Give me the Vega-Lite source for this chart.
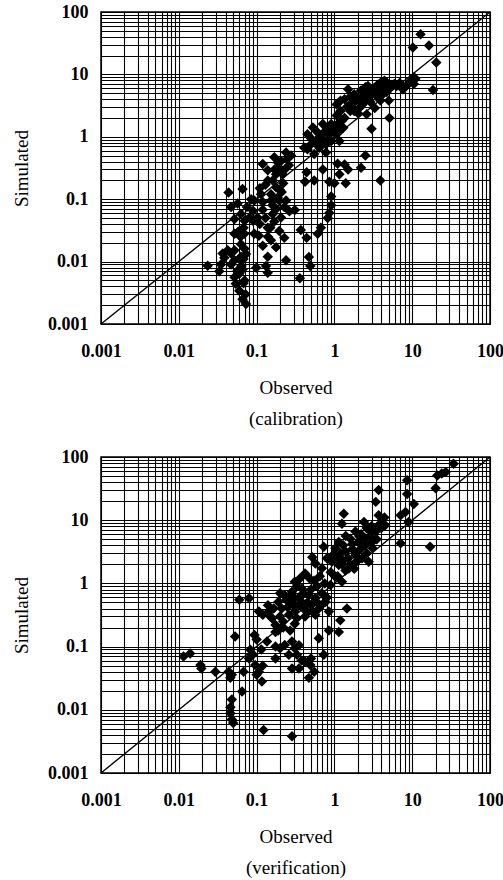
{
  "$schema": "https://vega.github.io/schema/vega-lite/v6.json",
  "padding": {"left": 11, "top": 2, "right": 0, "bottom": 2},
  "background": "white",
  "spacing": 18,
  "config": {
    "view": {"stroke": "black", "strokeWidth": 1.5},
    "axis": {
      "grid": true, "gridColor": "#000", "gridOpacity": 1, "gridWidth": 1.1,
      "ticks": false, "domain": false,
      "labelFont": "Liberation Serif", "labelFontWeight": "bold", "labelFontSize": 18, "labelColor": "#000",
      "titleFont": "Liberation Serif", "titleFontWeight": "normal", "titleFontSize": 19, "titleColor": "#000",
      "labelOverlap": false, "labelFlush": false, "labelBound": false,
      "format": "~g",
      "labelExpr": "(datum.value == 0.001 || datum.value == 0.01 || datum.value == 0.1 || datum.value == 1 || datum.value == 10 || datum.value == 100) ? datum.label : ''",
      "values": [0.001,0.002,0.003,0.004,0.005,0.006,0.007,0.008,0.009,0.01,0.02,0.03,0.04,0.05,0.06,0.07,0.08,0.09,0.1,0.2,0.3,0.4,0.5,0.6,0.7,0.8,0.9,1,2,3,4,5,6,7,8,9,10,20,30,40,50,60,70,80,90,100]
    }
  },
  "datasets": {
    "diag": [{"v": 0.001}, {"v": 100}],
    "cal": [
      {"o":12.8,"s":44},{"o":10.2,"s":27},{"o":16.4,"s":29},{"o":20.4,"s":15.5},{"o":18.5,"s":5.6},{"o":9.7,"s":7.9},{"o":8.4,"s":6.5},{"o":10.5,"s":9},{"o":11,"s":8.5},{"o":10.5,"s":7},{"o":7.5,"s":6.5},{"o":5.9,"s":7.0},{"o":6.9,"s":7.3},{"o":7.6,"s":5.8},{"o":4.4,"s":7.9},{"o":3.6,"s":6.8},
      {"o":1.5,"s":5.8},{"o":1.6,"s":4.4},{"o":1.07,"s":3.3},{"o":1.07,"s":2.2},{"o":1.2,"s":3.8},{"o":1.9,"s":3.8},{"o":2.2,"s":5.5},{"o":2.5,"s":6.2},{"o":2.7,"s":6.5},{"o":3.0,"s":4.8},{"o":3.3,"s":5.7},{"o":3.6,"s":4.3},{"o":3.9,"s":7.3},{"o":4.4,"s":5.5},{"o":4.7,"s":7.4},{"o":5.0,"s":3.8},{"o":5.1,"s":2.0},{"o":3.0,"s":1.35},{"o":2.6,"s":2.3},{"o":2.1,"s":2.9},{"o":1.6,"s":2.6},{"o":1.35,"s":2.0},{"o":1.3,"s":1.4},{"o":1.15,"s":1.2},{"o":1.35,"s":4.0},{"o":1.8,"s":2.6},{"o":3.3,"s":2.9},{"o":3.9,"s":3.8},{"o":5.2,"s":6.2},{"o":4.7,"s":5.2},{"o":2.7,"s":4.2},{"o":2.3,"s":3.3},{"o":2.0,"s":4.2},{"o":1.6,"s":3.3},
      {"o":0.53,"s":1.41},{"o":0.71,"s":1.6},{"o":0.45,"s":1.1},{"o":0.5,"s":0.76},{"o":0.58,"s":0.86},{"o":0.64,"s":0.67},{"o":0.67,"s":0.98},{"o":0.78,"s":0.76},{"o":0.91,"s":0.86},{"o":1.05,"s":1.1},{"o":1.16,"s":0.86},{"o":0.86,"s":1.1},{"o":0.45,"s":0.63},{"o":0.41,"s":0.67},{"o":0.55,"s":0.53},{"o":0.61,"s":1.17},{"o":0.78,"s":0.56},{"o":0.91,"s":1.6},
      {"o":0.71,"s":0.3},{"o":0.44,"s":0.27},{"o":0.42,"s":0.19},{"o":0.55,"s":0.2},{"o":0.86,"s":0.19},{"o":1.1,"s":0.37},{"o":1.35,"s":0.36},{"o":1.5,"s":0.3},{"o":1.16,"s":0.25},{"o":1.4,"s":0.18},{"o":1.0,"s":0.18},{"o":2.5,"s":0.5},{"o":2.2,"s":0.32},{"o":3.9,"s":0.2},{"o":0.91,"s":0.11},{"o":0.91,"s":0.08},{"o":0.86,"s":0.06},{"o":0.82,"s":0.05},{"o":0.67,"s":0.035},{"o":0.61,"s":0.028},{"o":0.44,"s":0.024},{"o":0.37,"s":0.032},{"o":0.47,"s":0.0118},{"o":0.49,"s":0.0085},{"o":0.36,"s":0.0054},{"o":0.31,"s":0.067},
      {"o":0.12,"s":0.365},{"o":0.139,"s":0.29},{"o":0.169,"s":0.47},{"o":0.206,"s":0.41},{"o":0.239,"s":0.56},{"o":0.277,"s":0.5},{"o":0.196,"s":0.32},{"o":0.216,"s":0.25},{"o":0.161,"s":0.2},{"o":0.178,"s":0.155},{"o":0.186,"s":0.106},{"o":0.153,"s":0.095},{"o":0.114,"s":0.12},{"o":0.0935,"s":0.095},{"o":0.066,"s":0.146},{"o":0.0436,"s":0.128},{"o":0.057,"s":0.085},{"o":0.063,"s":0.058},{"o":0.0695,"s":0.028},{"o":0.073,"s":0.0132},{"o":0.063,"s":0.0103},{"o":0.057,"s":0.0072},{"o":0.052,"s":0.0056},{"o":0.06,"s":0.0034},{"o":0.066,"s":0.0025},{"o":0.073,"s":0.0021},{"o":0.054,"s":0.0044},{"o":0.063,"s":0.019},{"o":0.081,"s":0.051},{"o":0.103,"s":0.051},{"o":0.107,"s":0.026},{"o":0.0935,"s":0.028},{"o":0.12,"s":0.068},{"o":0.139,"s":0.035},{"o":0.153,"s":0.022},{"o":0.161,"s":0.058},{"o":0.196,"s":0.095},{"o":0.227,"s":0.075},{"o":0.239,"s":0.095},{"o":0.206,"s":0.051},{"o":0.196,"s":0.031},{"o":0.227,"s":0.024},{"o":0.178,"s":0.017},{"o":0.139,"s":0.012},{"o":0.132,"s":0.0085},{"o":0.099,"s":0.008},{"o":0.139,"s":0.0066},{"o":0.239,"s":0.0105},{"o":0.169,"s":0.044},{"o":0.264,"s":0.064},{"o":0.153,"s":0.12},{"o":0.178,"s":0.25},{"o":0.139,"s":0.2},
      {"o":0.0235,"s":0.0086},{"o":0.0348,"s":0.009},{"o":0.0332,"s":0.007},{"o":0.0385,"s":0.0115},{"o":0.0366,"s":0.0135},{"o":0.0425,"s":0.0152},{"o":0.047,"s":0.0135},{"o":0.047,"s":0.009},{"o":0.047,"s":0.075},{"o":0.052,"s":0.048},{"o":0.052,"s":0.028},{"o":0.052,"s":0.0152},{"o":0.06,"s":0.0064},{"o":0.052,"s":0.0105},
      {"o":0.6,"s":0.75},{"o":0.7,"s":0.9},{"o":0.8,"s":1.3},{"o":0.5,"s":0.95},{"o":1.8,"s":4.8},{"o":2.4,"s":4.6},{"o":2.9,"s":3.6},{"o":3.5,"s":5.2},{"o":4.2,"s":6.3},{"o":0.13,"s":0.05},{"o":0.15,"s":0.035},{"o":0.12,"s":0.09},{"o":0.09,"s":0.065},{"o":0.058,"s":0.03},{"o":0.063,"s":0.012},{"o":0.066,"s":0.0075},{"o":0.07,"s":0.005},{"o":0.2,"s":0.14},{"o":0.22,"s":0.18},{"o":0.26,"s":0.35},
      {"o":1.1,"s":1.6},{"o":1.2,"s":2.6},{"o":1.25,"s":1.8},{"o":1.45,"s":3.0},{"o":1.7,"s":3.0},{"o":2.0,"s":2.4},{"o":2.4,"s":3.6},{"o":2.8,"s":5.2},{"o":3.2,"s":6.0},{"o":3.7,"s":5.8},{"o":4.0,"s":4.6},{"o":4.5,"s":6.8},{"o":5.5,"s":6.8},{"o":6.3,"s":6.5},{"o":1.05,"s":1.4},{"o":0.95,"s":1.3},{"o":0.85,"s":0.95},{"o":0.75,"s":1.2},{"o":0.62,"s":0.95},{"o":0.7,"s":0.8},
      {"o":0.068,"s":0.0045},{"o":0.072,"s":0.003},{"o":0.064,"s":0.0085},{"o":0.068,"s":0.011},{"o":0.07,"s":0.016},{"o":0.062,"s":0.025},{"o":0.068,"s":0.035},{"o":0.07,"s":0.045},
      {"o":0.11,"s":0.15},{"o":0.13,"s":0.17},{"o":0.17,"s":0.3},{"o":0.19,"s":0.38},{"o":0.23,"s":0.3},{"o":0.25,"s":0.45},{"o":0.21,"s":0.13},{"o":0.16,"s":0.08},{"o":0.18,"s":0.07},{"o":0.14,"s":0.025},{"o":0.12,"s":0.018},{"o":0.11,"s":0.04},{"o":0.09,"s":0.045},{"o":0.085,"s":0.1},{"o":0.075,"s":0.075}
    ],
    "ver": [
      {"o":34,"s":78},{"o":24,"s":55},{"o":21,"s":51},{"o":27,"s":58},{"o":20,"s":32},{"o":17,"s":3.8},{"o":8.6,"s":43},{"o":8.6,"s":26},{"o":10.5,"s":18},{"o":9.0,"s":9.4},{"o":8.2,"s":13.5},{"o":7.1,"s":12},{"o":7.1,"s":4.3},{"o":3.7,"s":30},{"o":3.4,"s":19.5},{"o":1.32,"s":12.7},{"o":1.25,"s":8.8},{"o":2.4,"s":9.4},{"o":3.7,"s":12},{"o":4.1,"s":10},{"o":2.8,"s":6.9},{"o":3.4,"s":6.6},{"o":4.5,"s":8.3},{"o":1.86,"s":6.6},{"o":1.6,"s":5.1},{"o":2.05,"s":4.5},{"o":2.5,"s":4.0},{"o":3.1,"s":3.6},{"o":1.14,"s":4.5},{"o":1.03,"s":3.6},{"o":1.39,"s":3.2},{"o":1.86,"s":2.8},{"o":0.73,"s":3.8},{"o":0.52,"s":2.6},{"o":0.57,"s":2.07},{"o":0.69,"s":1.73},{"o":0.93,"s":2.2},{"o":1.14,"s":1.95},{"o":1.39,"s":1.6},{"o":1.03,"s":1.27},{"o":0.89,"s":0.94},{"o":1.25,"s":1.06},{"o":1.53,"s":1.72},{"o":2.27,"s":2.5},{"o":2.76,"s":2.2},{"o":2.5,"s":5.1},
      {"o":0.42,"s":1.44},{"o":0.31,"s":1.06},{"o":0.285,"s":0.74},{"o":0.23,"s":0.65},{"o":0.19,"s":0.51},{"o":0.166,"s":0.4},{"o":0.143,"s":0.36},{"o":0.21,"s":0.4},{"o":0.26,"s":0.51},{"o":0.31,"s":0.58},{"o":0.38,"s":0.51},{"o":0.47,"s":0.65},{"o":0.57,"s":0.58},{"o":0.69,"s":0.7},{"o":0.77,"s":0.51},{"o":0.63,"s":0.4},{"o":0.52,"s":0.36},{"o":0.4,"s":0.4},{"o":0.31,"s":0.36},{"o":0.26,"s":0.32},{"o":0.31,"s":0.23},{"o":0.22,"s":0.25},{"o":0.175,"s":0.22},{"o":0.158,"s":0.28},{"o":0.175,"s":0.17},{"o":0.38,"s":0.83},{"o":0.57,"s":0.32},{"o":0.85,"s":0.36},{"o":1.45,"s":0.4},{"o":1.19,"s":0.26},{"o":1.14,"s":0.17},{"o":0.85,"s":0.18},{"o":0.63,"s":0.135},{"o":0.27,"s":0.18},{"o":0.107,"s":0.36},{"o":0.06,"s":0.55},{"o":0.08,"s":0.58},{"o":0.094,"s":0.153},{"o":0.053,"s":0.144},{"o":0.136,"s":0.12},{"o":0.083,"s":0.089},{"o":0.08,"s":0.065},{"o":0.096,"s":0.051},{"o":0.107,"s":0.04},{"o":0.117,"s":0.028},{"o":0.1,"s":0.036},{"o":0.175,"s":0.1},{"o":0.175,"s":0.065},{"o":0.2,"s":0.094},{"o":0.23,"s":0.106},{"o":0.285,"s":0.12},{"o":0.31,"s":0.094},{"o":0.26,"s":0.074},{"o":0.33,"s":0.074},{"o":0.285,"s":0.045},{"o":0.35,"s":0.045},{"o":0.42,"s":0.058},{"o":0.49,"s":0.051},{"o":0.47,"s":0.032},{"o":0.73,"s":0.074},
      {"o":0.0295,"s":0.04},{"o":0.0115,"s":0.07},{"o":0.014,"s":0.078},{"o":0.019,"s":0.051},{"o":0.0195,"s":0.045},{"o":0.0437,"s":0.04},{"o":0.048,"s":0.036},{"o":0.046,"s":0.032},{"o":0.065,"s":0.0194},{"o":0.048,"s":0.0145},{"o":0.046,"s":0.011},{"o":0.046,"s":0.0088},{"o":0.048,"s":0.007},{"o":0.05,"s":0.0062},{"o":0.123,"s":0.0048},{"o":0.285,"s":0.0038},{"o":0.068,"s":0.04},
      {"o":0.35,"s":0.45},{"o":0.45,"s":0.5},{"o":0.5,"s":0.8},{"o":0.6,"s":0.9},{"o":0.75,"s":1.0},{"o":0.8,"s":0.6},{"o":0.42,"s":0.3},{"o":0.33,"s":0.28},{"o":0.25,"s":0.42},{"o":0.2,"s":0.3},{"o":1.1,"s":2.6},{"o":1.3,"s":2.3},{"o":1.6,"s":2.0},{"o":2.0,"s":3.2},{"o":2.3,"s":3.8},{"o":1.7,"s":3.5},{"o":2.9,"s":5.5},{"o":3.5,"s":5.0},{"o":4.0,"s":7.5},{"o":3.0,"s":8.0},{"o":2.2,"s":6.0},{"o":1.4,"s":5.6},{"o":1.2,"s":3.0},{"o":0.95,"s":2.8},{"o":0.8,"s":2.5},{"o":0.65,"s":1.3},{"o":0.55,"s":1.1},
      {"o":0.2,"s":0.7},{"o":0.24,"s":0.55},{"o":0.27,"s":0.62},{"o":0.3,"s":0.45},{"o":0.35,"s":0.6},{"o":0.4,"s":0.7},{"o":0.45,"s":0.35},{"o":0.5,"s":0.45},{"o":0.6,"s":0.5},{"o":0.68,"s":0.45},{"o":0.33,"s":0.9},{"o":0.48,"s":1.2},{"o":0.36,"s":1.2},{"o":0.22,"s":0.2},{"o":0.19,"s":0.18},{"o":0.15,"s":0.3},{"o":0.12,"s":0.32},{"o":0.14,"s":0.45},{"o":0.9,"s":1.5},{"o":1.1,"s":1.3},{"o":1.25,"s":2.0},{"o":1.5,"s":2.5},{"o":1.7,"s":4.2},{"o":2.1,"s":5.5},{"o":2.6,"s":3.0},{"o":3.0,"s":4.4},{"o":3.8,"s":8.6},{"o":4.4,"s":11},{"o":2.6,"s":7.5},{"o":1.9,"s":2.2},{"o":1.3,"s":4.0},{"o":1.8,"s":1.7},{"o":0.115,"s":0.09},{"o":0.12,"s":0.05},{"o":0.09,"s":0.075},{"o":0.1,"s":0.13},{"o":0.35,"s":0.105},{"o":0.38,"s":0.06},{"o":0.55,"s":0.04},{"o":0.5,"s":0.065}
    ]
  },
  "vconcat": [
    {
      "width": 389, "height": 312,
      "layer": [
        {"data": {"name": "diag"}, "mark": {"type": "line", "color": "black", "strokeWidth": 1.4},
         "encoding": {
           "x": {"field": "v", "type": "quantitative", "scale": {"type": "log", "domain": [0.001, 100]}, "axis": {"title": ["Observed", "(calibration)"], "labelPadding": 18, "titlePadding": 18, "titleLineHeight": 31}},
           "y": {"field": "v", "type": "quantitative", "scale": {"type": "log", "domain": [0.001, 100]}, "axis": {"title": "Simulated", "labelPadding": 13, "titlePadding": 16}}
         }},
        {"data": {"name": "cal"}, "mark": {"type": "point", "shape": "diamond", "filled": true, "color": "black", "opacity": 1, "size": 110},
         "encoding": {
           "x": {"field": "o", "type": "quantitative"},
           "y": {"field": "s", "type": "quantitative"}
         }}
      ]
    },
    {
      "width": 389, "height": 316,
      "layer": [
        {"data": {"name": "diag"}, "mark": {"type": "line", "color": "black", "strokeWidth": 1.4},
         "encoding": {
           "x": {"field": "v", "type": "quantitative", "scale": {"type": "log", "domain": [0.001, 100]}, "axis": {"title": ["Observed", "(verification)"], "labelPadding": 18, "titlePadding": 18, "titleLineHeight": 31}},
           "y": {"field": "v", "type": "quantitative", "scale": {"type": "log", "domain": [0.001, 100]}, "axis": {"title": "Simulated", "labelPadding": 13, "titlePadding": 16}}
         }},
        {"data": {"name": "ver"}, "mark": {"type": "point", "shape": "diamond", "filled": true, "color": "black", "opacity": 1, "size": 110},
         "encoding": {
           "x": {"field": "o", "type": "quantitative"},
           "y": {"field": "s", "type": "quantitative"}
         }}
      ]
    }
  ]
}
